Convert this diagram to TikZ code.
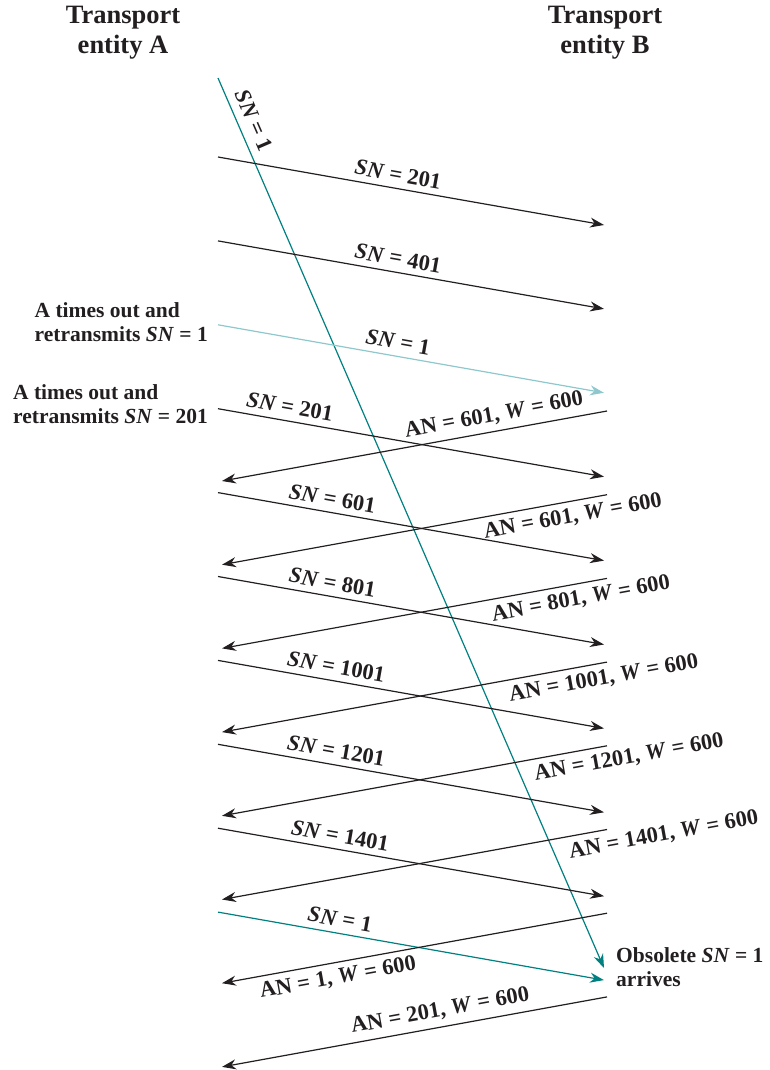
\documentclass[tikz,border=0pt]{standalone}
\usepackage{fontspec}
\setmainfont{Liberation Serif}
\usetikzlibrary{arrows.meta,positioning,calc}
\definecolor{clrInk}{RGB}{35,31,32}
\definecolor{clrTeal}{RGB}{0,128,128}
\definecolor{clrTealL}{RGB}{142,200,205}
\newcommand{\snlbl}[1]{\textit{SN} = #1}
\newcommand{\anlbl}[1]{AN = #1, \textit{W} = 600}
\tikzset{
  msg/.style={-{Stealth[length=14pt,width=10pt,inset=4.5pt]},line width=1.2pt,color=clrInk},
  msgTeal/.style={msg,color=clrTeal},
  msgLight/.style={msg,color=clrTealL},
  lbl/.style={font=\fontsize{22.5}{24}\selectfont\bfseries,text=clrInk,inner sep=6pt,sloped},
  head/.style={font=\fontsize{26.5}{30}\selectfont\bfseries,align=center,text=clrInk},
  note/.style={font=\fontsize{21.5}{24}\selectfont\bfseries,align=left,text=clrInk,inner sep=0pt}
}

\begin{document}
\begin{tikzpicture}[x=1pt,y=-1pt]
\useasboundingbox (0,0) rectangle (769,1070);

% Headings of the two entities
\node[head] (hA) at (123,33) {Transport\\entity A};
\node[head] (hB) at (605,33) {Transport\\entity B};

% End points: segments leave A at a\k and reach B at b\k,
% acknowledgements leave B at c\j and reach A at d\j
\foreach \k in {1,...,10} {
  \coordinate (a\k) at (218,{157+83.9*(\k-1)});
  \coordinate (b\k) at (604,{225+83.9*(\k-1)});
}
\foreach \j in {1,...,8} {
  \coordinate (c\j) at (607,{411+83.7*(\j-1)});
  \coordinate (d\j) at (222,{481+83.7*(\j-1)});
}
\coordinate (s0) at (218,78);
\coordinate (s1) at (604,968);

% The first SN = 1, delayed until the very end
\draw[msgTeal] (s0) -- node[lbl,above,pos=0.055,inner sep=8pt] {\snlbl{1}} (s1);

% Segments A -> B
\foreach \k/\lab/\p in {1/201/0.46,2/401/0.46,4/201/0.18,5/601/0.29,
    6/801/0.29,7/1001/0.30,8/1201/0.30,9/1401/0.31}
  \draw[msg] (a\k) -- node[lbl,above,pos=\p] {\snlbl{\lab}} (b\k);
\draw[msgLight] (a3) -- node[lbl,above,pos=0.46] {\snlbl{1}} (b3);
\draw[msgTeal] (a10) -- node[lbl,above,pos=0.31] {\snlbl{1}} (b10);

% Acknowledgements B -> A
\foreach \j/\lab/\p/\side in {1/601/0.286/above,2/601/0.096/below,
    3/801/0.075/below,4/1001/0.016/below,5/1201/-0.05/below,
    6/1401/-0.14/below,7/1/0.706/below,8/201/0.426/above}
  \draw[msg] (c\j) -- node[lbl,\side,pos=\p] {\anlbl{\lab}} (d\j);

% Side notes
\node[note,anchor=east] (nA1) at ($(a3)+(-10,-3)$)
  {A times out and\\retransmits \snlbl{1}};
\node[note,anchor=east] (nA2) at ($(a4)+(-10,-5)$)
  {A times out and\\retransmits \snlbl{201}};
\node[note,anchor=west] (nB) at ($(s1)+(12,-1)$)
  {Obsolete \snlbl{1}\\arrives};
\end{tikzpicture}
\end{document}
